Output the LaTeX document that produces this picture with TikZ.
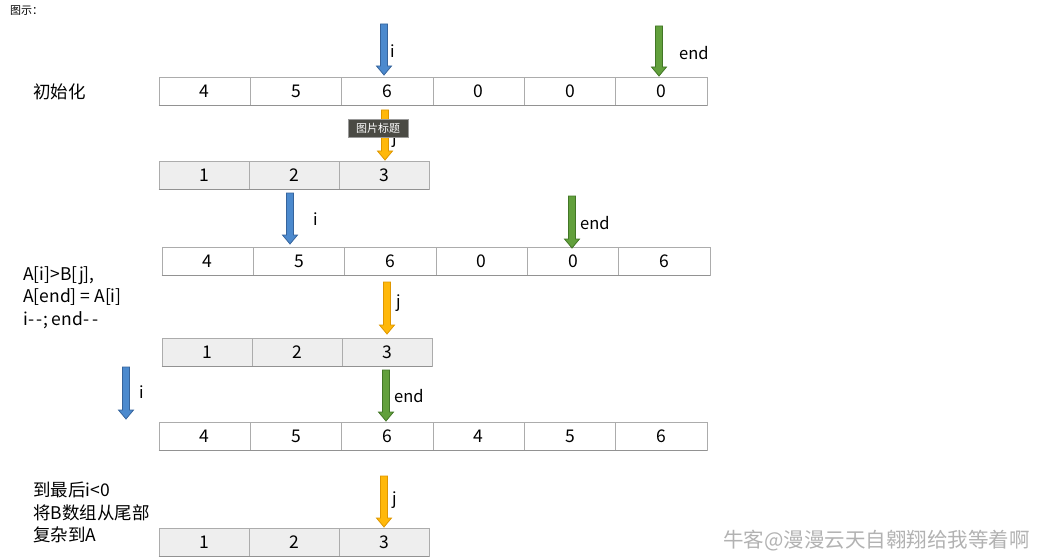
\documentclass[tikz,border=0pt]{standalone}
\usepackage{fontspec}
\setmainfont{Noto Sans CJK SC}
\usepackage{tikz}
\usepackage{color}

\definecolor{ptrblue}{RGB}{76,138,206}
\definecolor{ptrblueline}{RGB}{54,100,156}
\definecolor{ptrgreen}{RGB}{98,160,60}
\definecolor{ptrgreenline}{RGB}{66,118,38}
\definecolor{ptrorange}{RGB}{255,184,10}
\definecolor{ptrorangeline}{RGB}{222,150,0}
\definecolor{cellline}{RGB}{172,172,172}
\definecolor{cellgray}{RGB}{238,238,238}
\definecolor{tipgray}{RGB}{74,74,68}

\tikzset{
  cell/.style={draw=cellline, line width=0.9pt, minimum height=28pt, inner sep=0pt,
    font=\fontsize{17.5}{20}\selectfont},
  cellshadow/.style={draw=cellline!85!black, line width=1.6pt},
  ptrlabel/.style={anchor=west, inner sep=0pt, font=\fontsize{16.5}{19}\selectfont},
  note/.style={anchor=north west, align=left, inner sep=0pt, font=\fontsize{17.5}{22.5}\selectfont},
}

% one row of cells: name, left x, top y, cell width, fill, values
\newcommand{\cellrow}[6]{%
  \foreach \v [count=\k] in {#6} {
    \node[cell, fill=#5, minimum width=#4pt] (#1-\k) at ({#2+(\k-0.5)*#4},{#3+14}) {\v};
    \draw[cellshadow] (#1-\k.south west) -- (#1-\k.south east);
  }}
% block arrow pointing down: name, x, top y, tip y, fill, line
\newcommand{\pointer}[6]{%
  \coordinate (#1-top) at (#2,#3);
  \coordinate (#1-tip) at (#2,#4);
  \filldraw[fill=#5, draw=#6, line width=0.8pt, line join=miter]
    ({#2-3.5},#3) -- ({#2+3.5},#3) -- ({#2+3.5},{#4-9}) -- ({#2+7.5},{#4-9}) -- (#1-tip)
    -- ({#2-7.5},{#4-9}) -- ({#2-3.5},{#4-9}) -- cycle;}

\begin{document}
\begin{tikzpicture}[x=1pt,y=1pt,yscale=-1,xscale=1]
\useasboundingbox (0,0) rectangle (1044,559);

% Text Node
\node[anchor=west, inner sep=0pt, font=\fontsize{11}{13}\selectfont] (title) at (10,11) {图示：};

%Step: init
\cellrow{ainit}{159}{77}{91.33}{white}{4,5,6,0,0,0}
\node[anchor=west, inner sep=0pt, font=\fontsize{17.5}{20}\selectfont] (initlabel) at (33,92) {初始化};
\pointer{iinit}{384}{24}{75}{ptrblue}{ptrblueline}
\node[ptrlabel] (iinitlabel) at (390,51) {i};
\pointer{endinit}{659}{26}{76}{ptrgreen}{ptrgreenline}
\node[ptrlabel] (endinitlabel) at (679,53) {end};

\cellrow{binit}{159}{161}{90}{cellgray}{1,2,3}
\pointer{jinit}{385}{110}{160}{ptrorange}{ptrorangeline}
\node[ptrlabel] (jinitlabel) at (392,139) {j};

%Shape: caption tooltip
\node[fill=tipgray, draw=black!40, line width=0.6pt, text=white, minimum width=60pt, minimum height=18pt,
  inner sep=0pt, font=\fontsize{11}{13}\selectfont] (tooltip) at (378,128) {图片标题};

%Step: A[i]>B[j]
\cellrow{astep}{162}{247}{91.33}{white}{4,5,6,0,0,6}
\pointer{istep}{290}{193}{244}{ptrblue}{ptrblueline}
\node[ptrlabel] (isteplabel) at (313,219) {i};
\pointer{endstep}{572}{196}{248}{ptrgreen}{ptrgreenline}
\node[ptrlabel] (endsteplabel) at (580,223) {end};
\node[note] (stepnote) at (23,266) {A[i]>B[j],\\A[end] = A[i]\\i-\,-; end-\,-};

\cellrow{bstep}{162}{338}{90}{cellgray}{1,2,3}
\pointer{jstep}{387}{282}{334}{ptrorange}{ptrorangeline}
\node[ptrlabel] (jsteplabel) at (396,303) {j};

%Step: i<0
\cellrow{alast}{159}{422}{91.33}{white}{4,5,6,4,5,6}
\pointer{ilast}{126}{367}{419}{ptrblue}{ptrblueline}
\node[ptrlabel] (ilastlabel) at (139,392) {i};
\pointer{endlast}{386}{370}{421}{ptrgreen}{ptrgreenline}
\node[ptrlabel] (endlastlabel) at (394,396) {end};

\cellrow{blast}{159}{528}{90}{cellgray}{1,2,3}
\pointer{jlast}{384}{476}{527}{ptrorange}{ptrorangeline}
\node[ptrlabel] (jlastlabel) at (392,500) {j};
\node[note] (lastnote) at (33,482) {到最后i<0\\将B数组从尾部\\复杂到A};

% Text Node
\node[anchor=east, inner sep=0pt, text=black!30, font=\fontsize{20.5}{23}\selectfont] (mark) at (1030,541) {牛客@漫漫云天自翱翔给我等着啊};

\end{tikzpicture}
\end{document}
